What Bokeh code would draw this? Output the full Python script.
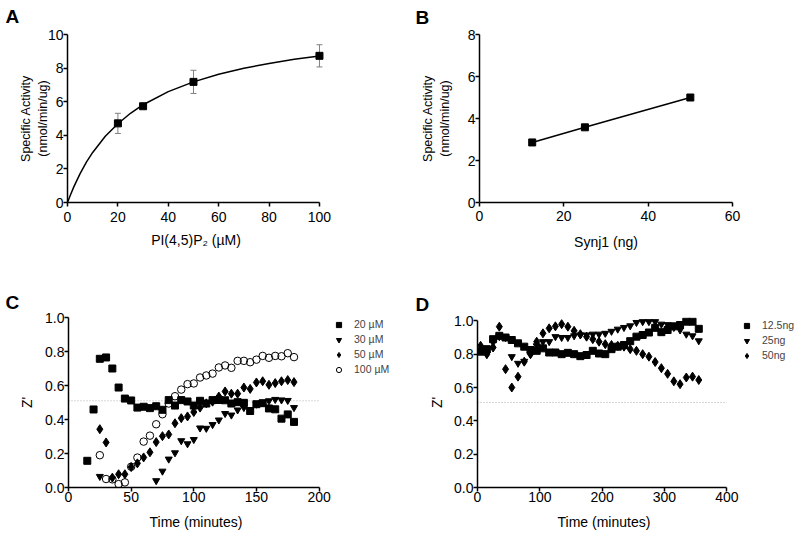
from bokeh.plotting import figure
from bokeh.layouts import column, row
from bokeh.models import (Range1d, Whisker, ColumnDataSource, Legend, LegendItem,
                          FixedTicker, TeeHead, NumeralTickFormatter, Title)
from bokeh.embed import file_html
from bokeh.resources import INLINE

FONT = "Liberation Sans"

# ---------------- Panel A data ----------------
a_conc = [20, 30, 50, 100]
a_activity = [4.71, 5.73, 7.18, 8.73]
a_sem = [0.60, 0.05, 0.69, 0.66]
a_fit_x = [0, 1, 2.5, 5, 7.5, 10, 15, 20, 25, 30, 40, 50, 60, 70, 80, 90, 100]
a_fit_y = [0, 0.39, 0.93, 1.72, 2.40, 2.98, 3.94, 4.69, 5.31, 5.82, 6.60, 7.18, 7.63, 7.99, 8.28, 8.52, 8.72]
a_xticks = [0, 20, 40, 60, 80, 100]
a_yticks = [0, 2, 4, 6, 8, 10]

# ---------------- Panel B data ----------------
b_synj = [12.5, 25, 50]
b_activity = [2.86, 3.58, 5.00]
b_xticks = [0, 20, 40, 60]
b_yticks = [0, 2, 4, 6, 8]

# ---------------- Panel C data ----------------
c_t20 = [15, 20, 25, 30, 35, 40, 45, 50, 55, 60, 65, 70, 75, 80, 85, 90, 95, 100,
         105, 110, 115, 120, 125, 130, 135, 140, 145, 150, 155, 160, 165, 170, 175, 180]
c_z20 = [0.157, 0.459, 0.757, 0.765, 0.700, 0.588, 0.523, 0.512, 0.470, 0.475, 0.467,
         0.478, 0.457, 0.514, 0.482, 0.514, 0.506, 0.482, 0.510, 0.494, 0.514, 0.515,
         0.513, 0.494, 0.502, 0.498, 0.450, 0.490, 0.496, 0.465, 0.460, 0.405, 0.430, 0.386]
c_t30 = [25, 70, 75, 80, 85, 90, 95, 100, 105, 110, 115, 120, 125, 130, 135, 140,
         145, 150, 155, 160, 165, 170, 175, 180]
c_z30 = [0.065, 0.040, 0.096, 0.167, 0.204, 0.275, 0.257, 0.282, 0.350, 0.348, 0.370,
         0.397, 0.435, 0.426, 0.456, 0.470, 0.455, 0.490, 0.500, 0.510, 0.518, 0.515,
         0.512, 0.470]
c_t50 = [25, 30, 35, 40, 45, 50, 55, 60, 65, 70, 75, 80, 85, 90, 95, 100, 105, 110,
         115, 120, 125, 130, 135, 140, 145, 150, 155, 160, 165, 170, 175, 180]
c_z50 = [0.343, 0.265, 0.058, 0.078, 0.078, 0.120, 0.142, 0.177, 0.207, 0.267, 0.302,
         0.312, 0.378, 0.408, 0.418, 0.444, 0.470, 0.495, 0.505, 0.535, 0.565, 0.552,
         0.552, 0.588, 0.580, 0.618, 0.625, 0.604, 0.614, 0.625, 0.632, 0.620]
c_t100 = [25, 30, 35, 40, 45, 50, 55, 60, 65, 70, 75, 80, 85, 90, 95, 100, 105, 110,
          115, 120, 125, 130, 135, 140, 145, 150, 155, 160, 165, 170, 175, 180]
c_z100 = [0.190, 0.050, 0.048, 0.020, 0.030, 0.122, 0.176, 0.270, 0.305, 0.372, 0.431,
          0.494, 0.537, 0.576, 0.608, 0.612, 0.647, 0.659, 0.670, 0.706, 0.718, 0.704,
          0.745, 0.745, 0.737, 0.752, 0.774, 0.763, 0.774, 0.772, 0.790, 0.767]
c_labels = ["20 µM", "30 µM", "50 µM", "100 µM"]
c_xticks = [0, 50, 100, 150, 200]
z_yticks = [0.0, 0.2, 0.4, 0.6, 0.8, 1.0]
z_threshold = 0.51

# ---------------- Panel D data ----------------
d_time = [5, 15, 25, 35, 45, 55, 65, 75, 85, 95, 105, 115, 125, 135, 145, 155, 165, 175,
          185, 195, 205, 215, 225, 235, 245, 255, 265, 275, 285, 295, 305, 315, 325, 335,
          345, 355]
d_z125 = [0.815, 0.830, 0.890, 0.910, 0.900, 0.885, 0.865, 0.845, 0.825, 0.820, 0.835,
          0.810, 0.810, 0.800, 0.808, 0.800, 0.788, 0.795, 0.820, 0.804, 0.800, 0.830,
          0.845, 0.855, 0.878, 0.905, 0.915, 0.930, 0.958, 0.932, 0.945, 0.967, 0.975,
          0.995, 0.995, 0.952]
d_z25 = [0.820, 0.800, 0.870, 0.905, 0.900, 0.785, 0.745, 0.757, 0.800, 0.850, 0.875,
         0.875, 0.905, 0.900, 0.900, 0.910, 0.915, 0.915, 0.920, 0.920, 0.925, 0.937,
         0.950, 0.960, 0.970, 0.990, 0.995, 0.995, 0.995, 0.980, 0.977, 0.960, 0.945,
         0.920, 0.910, 0.880]
d_z50 = [0.850, 0.800, 0.840, 0.965, 0.710, 0.600, 0.665, 0.755, 0.800, 0.875, 0.925,
         0.955, 0.967, 0.980, 0.965, 0.940, 0.920, 0.905, 0.890, 0.875, 0.860, 0.855,
         0.850, 0.845, 0.830, 0.820, 0.800, 0.785, 0.753, 0.716, 0.682, 0.637, 0.620,
         0.660, 0.665, 0.645]
d_labels = ["12.5ng", "25ng", "50ng"]
d_xticks = [0, 100, 200, 300, 400]


def make_fig(width, height, xr, yr, left, right, top, bottom):
    p = figure(width=width, height=height, x_range=Range1d(*xr), y_range=Range1d(*yr),
               output_backend="svg", toolbar_location=None,
               min_border_left=left, min_border_right=right,
               min_border_top=top, min_border_bottom=bottom)
    p.outline_line_color = None
    p.grid.visible = False
    for ax in (p.xaxis[0], p.yaxis[0]):
        ax.axis_line_width = 1.5
        ax.axis_line_color = "black"
        ax.major_tick_line_width = 1.5
        ax.major_tick_line_color = "black"
        ax.major_tick_out = 4
        ax.major_tick_in = 0
        ax.minor_tick_line_color = None
        ax.major_label_text_font = FONT
        ax.major_label_text_font_size = "14px"
        ax.major_label_text_color = "black"
        ax.axis_label_text_font = FONT
        ax.axis_label_text_font_style = "normal"
        ax.axis_label_text_font_size = "14px"
        ax.axis_label_text_color = "black"
    p.yaxis.major_label_standoff = 0
    return p


def letter(p, txt, offset, standoff, valign):
    t = p.title
    t.text = txt
    t.align = "left"
    t.offset = offset
    t.standoff = standoff
    t.vertical_align = valign
    t.text_font = FONT
    t.text_font_size = "19px"
    t.text_font_style = "bold"
    t.text_color = "black"


def x_title(p, txt, offset, standoff):
    p.add_layout(Title(text=txt, align="left", offset=offset, standoff=standoff,
                       vertical_align="bottom", text_font=FONT, text_font_size="14px",
                       text_font_style="normal", text_color="black"), "below")


def legend(p, items, x, y):
    lg = Legend(items=items, location=(x, y), border_line_color=None,
                background_fill_alpha=0, padding=0, margin=0, spacing=2,
                glyph_width=13, glyph_height=13, label_standoff=9,
                label_text_font=FONT, label_text_font_size="10.5px",
                label_height=13, label_text_baseline="middle")
    p.add_layout(lg)


def threshold(p, xticks):
    p.line([xticks[0], xticks[-1]], [z_threshold, z_threshold], line_color="#9a9a9a",
           line_width=0.8, line_dash="1 2")


# ---------------- A ----------------
pa = make_fig(400, 268, (0, 102), (0, 10), 67, 76, 34, 64)
pa.xaxis.bounds = (0, 100)
pa.xaxis.ticker = FixedTicker(ticks=a_xticks)
pa.yaxis.ticker = FixedTicker(ticks=a_yticks)
pa.xaxis.axis_label = "PI(4,5)P₂ (µM)"
pa.yaxis.axis_label = "Specific Activity\n(nmol/min/ug)"
pa.yaxis.axis_label_text_font_size = "12.5px"
pa.yaxis.axis_label_text_line_height = 1.2
pa.yaxis.axis_label_standoff = -5
pa.xaxis.major_label_standoff = 5
pa.xaxis.axis_label_standoff = 7
src_a = ColumnDataSource(dict(
    x=a_conc,
    upper=[m + s for m, s in zip(a_activity, a_sem)],
    lower=[m - s for m, s in zip(a_activity, a_sem)]))
wa = Whisker(base="x", upper="upper", lower="lower", source=src_a,
             line_color="#808080", line_width=1,
             upper_head=TeeHead(size=6, line_color="#808080", line_width=1),
             lower_head=TeeHead(size=6, line_color="#808080", line_width=1))
wa.level = "underlay"
pa.add_layout(wa)
pa.line(a_fit_x, a_fit_y, line_color="black", line_width=1.5)
pa.scatter(a_conc, a_activity, marker="square", size=7, fill_color="black", line_color="black")
letter(pa, "A", -62, 11, "top")

# ---------------- B ----------------
pb = make_fig(398, 268, (0, 60), (0, 8), 79, 66, 32, 66)
pb.xaxis.ticker = FixedTicker(ticks=b_xticks)
pb.yaxis.ticker = FixedTicker(ticks=b_yticks)
pb.xaxis.axis_label = "Synj1 (ng)"
pb.yaxis.axis_label = "Specific Activity\n(nmol/min/ug)"
pb.yaxis.axis_label_text_font_size = "12.5px"
pb.yaxis.axis_label_text_line_height = 1.2
pb.yaxis.axis_label_standoff = 13
pb.xaxis.major_label_standoff = 4
pb.xaxis.axis_label_standoff = 10
pb.line(b_synj, b_activity, line_color="black", line_width=1.5)
pb.scatter(b_synj, b_activity, marker="square", size=7, fill_color="black", line_color="black")
letter(pb, "B", -64, 10, "top")

# ---------------- C ----------------
pc = make_fig(400, 270, (0, 265), (0, 1), 68, 0, 49, 51)
pc.xaxis.bounds = (c_xticks[0], c_xticks[-1])
pc.xaxis.ticker = FixedTicker(ticks=c_xticks)
pc.yaxis.ticker = FixedTicker(ticks=z_yticks)
pc.yaxis.formatter = NumeralTickFormatter(format="0.0")
pc.yaxis.axis_label = "Z'"
pc.yaxis.axis_label_standoff = 7
pc.xaxis.major_label_standoff = 0
x_title(pc, "Time (minutes)", 81, 14)
threshold(pc, c_xticks)
rc1 = pc.scatter(c_t20, c_z20, marker="square", size=7, fill_color="black", line_color="black")
rc2 = pc.scatter(c_t30, c_z30, marker="inverted_triangle", size=7, fill_color="black", line_color="black")
rc3 = pc.scatter(c_t50, c_z50, marker="diamond", size=9, fill_color="black", line_color="black")
rc4 = pc.scatter(c_t100, c_z100, marker="circle", size=7.5, fill_color=None, line_color="black", line_width=1)
legend(pc, [LegendItem(label=l, renderers=[r]) for l, r in zip(c_labels, [rc1, rc2, rc3, rc4])], 264, 111.5)
letter(pc, "C", -63, 10, "bottom")

# ---------------- D ----------------
pd_ = make_fig(398, 270, (0, 515), (0, 1.02), 77, 0, 46, 51)
pd_.xaxis.bounds = (d_xticks[0], d_xticks[-1])
pd_.yaxis.bounds = (0, 1)
pd_.xaxis.ticker = FixedTicker(ticks=d_xticks)
pd_.yaxis.ticker = FixedTicker(ticks=z_yticks)
pd_.yaxis.formatter = NumeralTickFormatter(format="0.0")
pd_.yaxis.axis_label = "Z'"
pd_.yaxis.axis_label_standoff = 6
pd_.xaxis.major_label_standoff = 0
x_title(pd_, "Time (minutes)", 80, 14)
threshold(pd_, d_xticks)
rd1 = pd_.scatter(d_time, d_z125, marker="square", size=7, fill_color="black", line_color="black")
rd2 = pd_.scatter(d_time, d_z25, marker="inverted_triangle", size=7, fill_color="black", line_color="black")
rd3 = pd_.scatter(d_time, d_z50, marker="diamond", size=9, fill_color="black", line_color="black")
legend(pd_, [LegendItem(label=l, renderers=[r]) for l, r in zip(d_labels, [rd1, rd2, rd3])], 263, 125.5)
letter(pd_, "D", -62, 6, "bottom")

layout = column(row(pa, pb), row(pc, pd_))
open("out.html", "w").write(file_html(layout, INLINE))
